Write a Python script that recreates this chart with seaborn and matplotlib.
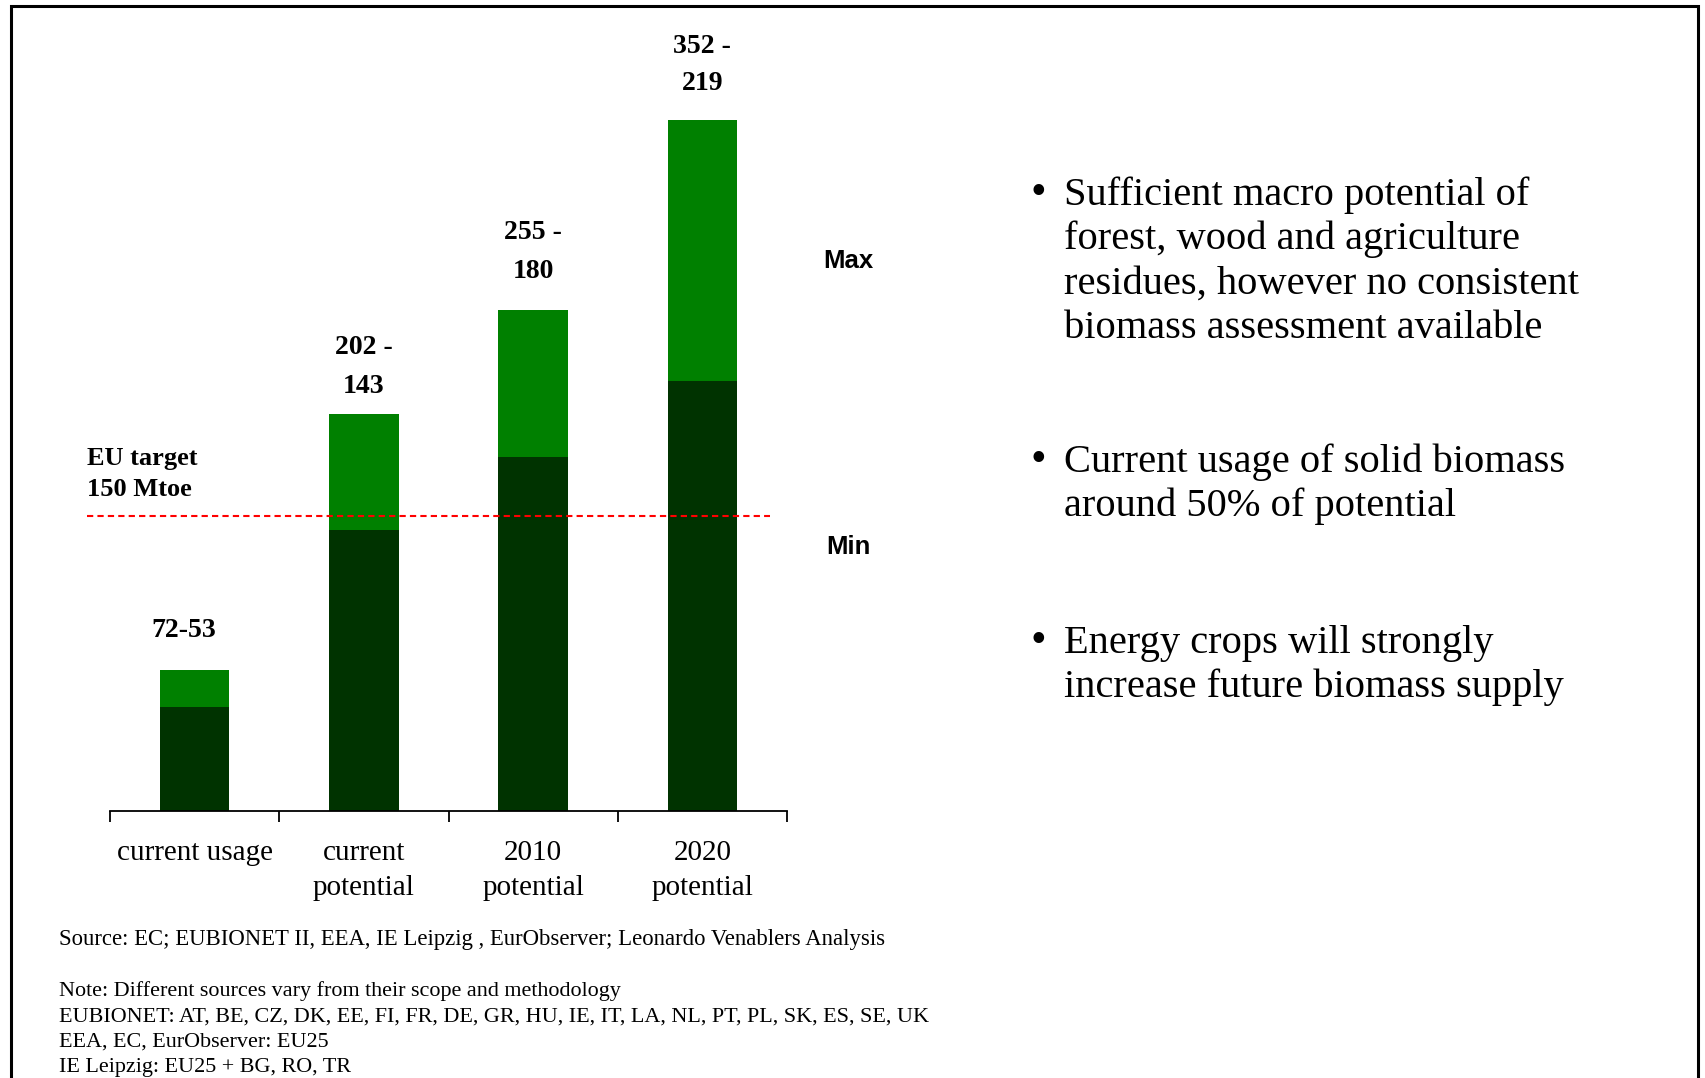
import matplotlib
matplotlib.use('Agg')
import matplotlib.pyplot as plt
import seaborn as sns
import pandas as pd
from matplotlib.patches import Rectangle

# ================= data =================
CATEGORIES = ['current usage', 'current\npotential', '2010\npotential', '2020\npotential']
MAX_VALUES = [72, 202, 255, 352]
MIN_VALUES = [53, 143, 180, 219]
EU_TARGET = 150
VALUE_LABELS = [['72-53'], ['202 -', '143'], ['255 -', '180'], ['352 -', '219']]

BULLETS = [
    ['Sufficient macro potential of', 'forest, wood and agriculture',
     'residues, however no consistent', 'biomass assessment available'],
    ['Current usage of solid biomass', 'around 50% of potential'],
    ['Energy crops will strongly', 'increase future biomass supply'],
]
SOURCE = 'Source: EC; EUBIONET II, EEA, IE Leipzig , EurObserver; Leonardo Venablers Analysis'
NOTES = [
    'Note: Different sources vary from their scope and methodology',
    'EUBIONET: AT, BE, CZ, DK, EE, FI, FR, DE, GR, HU, IE, IT, LA, NL, PT, PL, SK, ES, SE, UK',
    'EEA, EC, EurObserver: EU25',
    'IE Leipzig: EU25 + BG, RO, TR',
]

GREEN = '#008000'
DARK = '#003300'
SERIF = ['Liberation Serif', 'DejaVu Serif']
SANS = ['Liberation Sans Narrow', 'Liberation Sans', 'DejaVu Sans']
# =========================================

W, H = 1706, 1078


def fy(py):
    # pixel row (from top) -> figure fraction
    return 1 - py / H


def main():
    sns.set_theme(style='white')
    plt.rcParams['font.family'] = SERIF
    plt.rcParams['text.color'] = 'black'
    plt.rcParams['xtick.color'] = 'black'

    fig = plt.figure(figsize=(W / 100, H / 100), dpi=100)
    fig.patch.set_facecolor('white')

    # frame around the slide
    fig.add_artist(Rectangle((11 / W, -0.05), (1698 - 11) / W, fy(6) + 0.05,
                             fill=False, lw=2.2, edgecolor='black',
                             transform=fig.transFigure, clip_on=False))

    ax = fig.add_axes([110 / W, fy(811), 677 / W, (811 - 6) / H])
    df = pd.DataFrame({'category': CATEGORIES, 'max': MAX_VALUES, 'min': MIN_VALUES})

    sns.barplot(data=df, x='category', y='max', color=GREEN, saturation=1,
                width=0.41, linewidth=0, ax=ax)
    sns.barplot(data=df, x='category', y='min', color=DARK, saturation=1,
                width=0.41, linewidth=0, ax=ax)

    ax.set_xlim(-0.5, len(CATEGORIES) - 0.5)
    ax.set_ylim(0, 805 / 1.964)
    ax.set_xlabel('')
    ax.set_ylabel('')
    ax.set_yticks([])
    for s in ['left', 'top', 'right']:
        ax.spines[s].set_visible(False)
    ax.spines['bottom'].set_color('black')
    ax.spines['bottom'].set_linewidth(1.3)

    ax.set_xticks(range(len(CATEGORIES)))
    ax.set_xticklabels(CATEGORIES, fontsize=21, linespacing=1.45)
    ax.set_xticks([i - 0.5 for i in range(len(CATEGORIES) + 1)], minor=True)
    ax.tick_params(axis='x', which='major', length=0, pad=21, colors='black')
    ax.tick_params(axis='x', which='minor', length=8, width=1.3,
                   direction='out', color='black', bottom=True)

    # EU target line
    ax.hlines(EU_TARGET, -0.636, 3.40, colors='red', linestyles=(0, (3, 2)),
              lw=1.5, clip_on=False)

    # value labels above the bars (offsets in points)
    gaps = [(20, 27), (48, 20), (56, 28), (53, 26)]
    for i, lines in enumerate(VALUE_LABELS):
        if len(lines) == 1:
            ax.annotate(lines[0], xy=(i, MAX_VALUES[i]), xytext=(-8, 28),
                        textcoords='offset points', ha='center', va='center',
                        fontsize=20, fontweight='bold', annotation_clip=False)
        else:
            top, low = gaps[i]
            ax.annotate(lines[0], xy=(i, MAX_VALUES[i]), xytext=(0, top),
                        textcoords='offset points', ha='center', va='center',
                        fontsize=20, fontweight='bold', annotation_clip=False)
            ax.annotate(lines[1], xy=(i, MAX_VALUES[i]), xytext=(0, low),
                        textcoords='offset points', ha='center', va='center',
                        fontsize=20, fontweight='bold', annotation_clip=False)

    fig.text(87 / W, fy(458), 'EU target', ha='left', va='center',
             fontsize=19, fontweight='bold')
    fig.text(87 / W, fy(490), '150 Mtoe', ha='left', va='center',
             fontsize=19, fontweight='bold')

    fig.text(848 / W, fy(261), 'Max', ha='center', va='center',
             fontsize=18.5, fontweight='bold', family=SANS)
    fig.text(848 / W, fy(547), 'Min', ha='center', va='center',
             fontsize=18.5, fontweight='bold', family=SANS)

    # bullet points on the right
    starts = [195, 462, 643]
    for start, lines in zip(starts, BULLETS):
        fig.text(1038 / W, fy(start - 2), '\u2022', ha='center', va='center', fontsize=32)
        for k, line in enumerate(lines):
            fig.text(1064 / W, fy(start + k * 44.6), line, ha='left', va='center',
                     fontsize=29.2)

    fig.text(59 / W, fy(940), SOURCE, ha='left', va='center', fontsize=16.4)
    for k, line in enumerate(NOTES):
        fig.text(59 / W, fy(991 + k * 25.6), line, ha='left', va='center', fontsize=15.9)

    fig.savefig('out.png', dpi=100, facecolor='white')
    plt.close(fig)


if __name__ == '__main__':
    main()
